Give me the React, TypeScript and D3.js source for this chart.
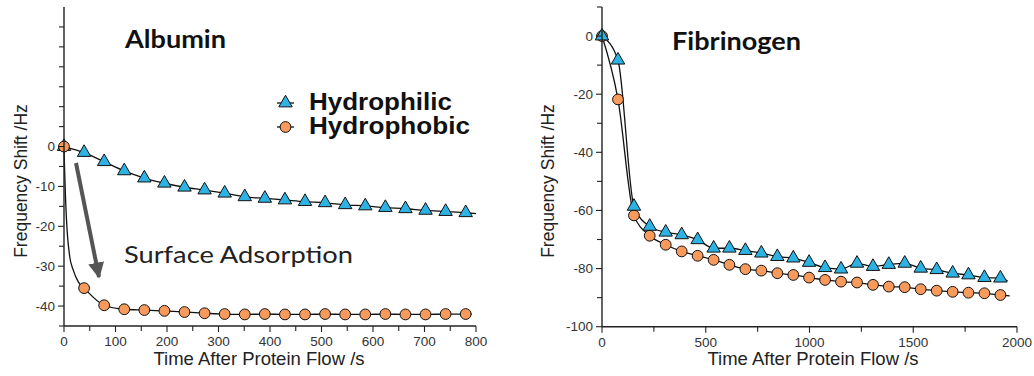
import React from 'react';
import * as d3 from 'd3';

// Albumin panel
const albuminTime = [0, 39, 78, 117, 156, 195, 234, 273, 312, 351, 390, 429, 468, 507, 546, 585, 624, 663, 702, 741, 780];
const albuminPhilic = [0, -1.5, -3.8, -6.1, -7.9, -9.2, -10.2, -10.9, -11.7, -12.6, -13.0, -13.4, -13.8, -14.1, -14.6, -14.9, -15.3, -15.6, -16.0, -16.3, -16.6];
const albuminPhobic = [0, -35.5, -39.8, -40.8, -41.0, -41.2, -41.5, -41.8, -42.0, -42.1, -42.0, -42.1, -42.1, -42.0, -42.1, -42.1, -42.0, -42.1, -42.1, -42.0, -42.0];
// early part of the fitted curve for the hydrophobic albumin trace
const albuminPhobicFitTime = [0, 1, 3, 6, 11, 18, 28];
const albuminPhobicFitValue = [0, -5, -13, -21, -27.5, -31, -34];

// Fibrinogen panel
const fibTime = [0, 77, 154, 230, 307, 384, 461, 538, 614, 691, 768, 845, 922, 998, 1075, 1152, 1229, 1306, 1382, 1459, 1536, 1613, 1690, 1766, 1843, 1920];
const fibPhilic = [0, -8.3, -58.6, -65.5, -67.5, -68.4, -70.1, -73.0, -73.0, -73.8, -74.7, -75.9, -76.4, -77.9, -79.7, -80.2, -78.2, -79.3, -78.6, -78.2, -79.9, -80.4, -81.6, -82.2, -83.1, -83.3];
const fibPhobic = [0, -21.8, -61.7, -68.7, -71.8, -74.1, -75.6, -77.0, -78.7, -80.2, -80.7, -81.6, -82.2, -83.1, -83.9, -84.5, -84.8, -85.6, -86.2, -86.4, -87.1, -87.6, -88.0, -88.3, -88.5, -89.1];

const albuminXLabels = [0, 100, 200, 300, 400, 500, 600, 700, 800];
const albuminYLabels = [0, -10, -20, -30, -40];
const fibXLabels = [0, 500, 1000, 1500, 2000];
const fibYLabels = [0, -20, -40, -60, -80, -100];

const legendNames = ['Hydrophilic', 'Hydrophobic'];

const BLUE = '#2cb3e4';
const ORANGE = '#f89a5c';
const AXIS = '#222';
const TICK_TEXT = '#333';
const sans = 'Liberation Sans, Arial, sans-serif';
const title = 'Lato, Open Sans, sans-serif';

const tri = d3.symbol(d3.symbolTriangle, 78)();
const fitLine = d3.line<[number, number]>().curve(d3.curveMonotoneX);

type PanelProps = {
  x: d3.ScaleLinear<number, number>;
  y: d3.ScaleLinear<number, number>;
  xMinor: number[];
  xLabels: number[];
  yMinor: number[];
  yLabels: number[];
  yTitleX: number;
  xTitleX: number;
  children?: React.ReactNode;
};

function Axes({ x, y, xMinor, xLabels, yMinor, yLabels, yTitleX, xTitleX, children }: PanelProps) {
  const [x0, x1] = x.range();
  const [y0, y1] = y.range();
  return (
    <g>
      {children}
      <line x1={x0} x2={x0} y1={y1} y2={y0} stroke={AXIS} strokeWidth={1.4} />
      <line x1={x0} x2={x1} y1={y0} y2={y0} stroke={AXIS} strokeWidth={1.4} />
      {yMinor.map((v) => (
        <line key={'ym' + v} x1={x0 - (yLabels.includes(v) ? 6 : 5)} x2={x0} y1={y(v)} y2={y(v)} stroke={AXIS} strokeWidth={1.1} />
      ))}
      {xMinor.map((v) => (
        <line key={'xm' + v} x1={x(v)} x2={x(v)} y1={y0} y2={y0 + (xLabels.includes(v) ? 6 : 5)} stroke={AXIS} strokeWidth={1.1} />
      ))}
      {yLabels.map((v) => (
        <text key={'yl' + v} x={x0 - 9} y={y(v)} dy="0.35em" textAnchor="end" fontFamily={sans} fontSize={13.5} fill={TICK_TEXT}>
          {v}
        </text>
      ))}
      {xLabels.map((v) => (
        <text key={'xl' + v} x={x(v)} y={y0 + 20} textAnchor="middle" fontFamily={sans} fontSize={13.5} fill={TICK_TEXT}>
          {v}
        </text>
      ))}
      <text x={xTitleX} y={365} textAnchor="middle" fontFamily={sans} fontSize={18.5} fill="#222">
        Time After Protein Flow /s
      </text>
      <text transform={`translate(${yTitleX},181) rotate(-90)`} dy="0.35em" textAnchor="middle" fontFamily={sans} fontSize={17.5} fill="#222">
        Frequency Shift /Hz
      </text>
    </g>
  );
}

function Triangles({ xs, ys, x, y }: { xs: number[]; ys: number[]; x: any; y: any }) {
  return (
    <g>
      {xs.map((t, i) => (
        <path key={i} d={tri} transform={`translate(${x(t)},${y(ys[i])})`} fill={BLUE} stroke="#111" strokeWidth={1} />
      ))}
    </g>
  );
}

function Circles({ xs, ys, x, y }: { xs: number[]; ys: number[]; x: any; y: any }) {
  return (
    <g>
      {xs.map((t, i) => (
        <circle key={i} cx={x(t)} cy={y(ys[i])} r={5.4} fill={ORANGE} stroke="#111" strokeWidth={1} />
      ))}
    </g>
  );
}

export default function App() {
  // Albumin scales
  const ax = d3.scaleLinear().domain([0, 800]).range([64, 476]);
  const ay = d3.scaleLinear().domain([-45, 35]).range([326, 7]);
  // Fibrinogen scales
  const fx = d3.scaleLinear().domain([0, 2000]).range([602, 1017]);
  const fy = d3.scaleLinear().domain([-100, 10]).range([326.7, 7]);

  const aPhilicPts: [number, number][] = albuminTime.map((t, i) => [ax(t), ay(albuminPhilic[i])]);
  aPhilicPts.push([ax(800), ay(-16.8)]);
  const aPhobicPts: [number, number][] = [
    ...albuminPhobicFitTime.map((t, i) => [ax(t), ay(albuminPhobicFitValue[i])] as [number, number]),
    ...albuminTime.slice(1).map((t, i) => [ax(t), ay(albuminPhobic[i + 1])] as [number, number]),
  ];
  aPhobicPts.push([ax(792), ay(-42.0)]);

  const fPhilicPts: [number, number][] = fibTime.map((t, i) => [fx(t), fy(fibPhilic[i])]);
  fPhilicPts.push([fx(1955), fy(-84.2)]);
  const fPhobicPts: [number, number][] = fibTime.map((t, i) => [fx(t), fy(fibPhobic[i])]);
  fPhobicPts.push([fx(1965), fy(-89.4)]);

  return (
    <svg width={1034} height={376} style={{ position: 'absolute', left: 0, top: 0, background: '#fff' }}>
      {/* Albumin */}
      <Axes x={ax} y={ay} xMinor={d3.range(0, 801, 50)} xLabels={albuminXLabels} yMinor={d3.range(-45, 35, 5)} yLabels={albuminYLabels} yTitleX={21} xTitleX={259}>
        <path d={fitLine(aPhilicPts) || ''} fill="none" stroke="#111" strokeWidth={1.3} />
        <path d={fitLine(aPhobicPts) || ''} fill="none" stroke="#111" strokeWidth={1.3} />
        <Triangles xs={albuminTime} ys={albuminPhilic} x={ax} y={ay} />
        <Circles xs={albuminTime} ys={albuminPhobic} x={ax} y={ay} />
      </Axes>
      <text x={125} y={48} fontFamily={title} fontWeight={700} fontSize={25} textLength={101} lengthAdjust="spacingAndGlyphs" fill="#111">
        Albumin
      </text>
      <text x={124} y={263} fontFamily={title} fontSize={23} textLength={229} lengthAdjust="spacingAndGlyphs" fill="#222">
        Surface Adsorption
      </text>
      {/* arrow */}
      <defs>
        <marker id="arrowHead" viewBox="0 0 10 10" refX={9} refY={5} markerWidth={4} markerHeight={4} orient="auto">
          <path d="M0,0 L10,5 L0,10 Z" fill="#555" />
        </marker>
      </defs>
      <line x1={76} y1={163} x2={99} y2={277} stroke="#555" strokeWidth={4} markerEnd="url(#arrowHead)" />

      {/* legend */}
      {legendNames.map((name, i) => {
        const ly = 103 + i * 24;
        return (
          <g key={name}>
            <line x1={277} x2={294} y1={ly} y2={ly} stroke="#111" strokeWidth={1.3} />
            {i === 0 ? (
              <path d={tri} transform={`translate(285.5,${ly})`} fill={BLUE} stroke="#111" strokeWidth={1} />
            ) : (
              <circle cx={285.5} cy={ly} r={5.4} fill={ORANGE} stroke="#111" strokeWidth={1} />
            )}
            <text x={309} y={ly + 6.5} fontFamily={sans} fontWeight={700} fontSize={23} textLength={i === 0 ? 143 : 161} lengthAdjust="spacingAndGlyphs" fill="#111">
              {name}
            </text>
          </g>
        );
      })}

      {/* Fibrinogen */}
      <Axes x={fx} y={fy} xMinor={d3.range(0, 2001, 250)} xLabels={fibXLabels} yMinor={d3.range(-100, 11, 10)} yLabels={fibYLabels} yTitleX={548} xTitleX={813}>
        <path d={fitLine(fPhobicPts) || ''} fill="none" stroke="#111" strokeWidth={1.3} />
        <path d={fitLine(fPhilicPts) || ''} fill="none" stroke="#111" strokeWidth={1.3} />
        <Circles xs={fibTime} ys={fibPhobic} x={fx} y={fy} />
        <Triangles xs={fibTime} ys={fibPhilic} x={fx} y={fy} />
      </Axes>
      <text x={672} y={50} fontFamily={title} fontWeight={700} fontSize={25} textLength={129} lengthAdjust="spacingAndGlyphs" fill="#111">
        Fibrinogen
      </text>
    </svg>
  );
}
